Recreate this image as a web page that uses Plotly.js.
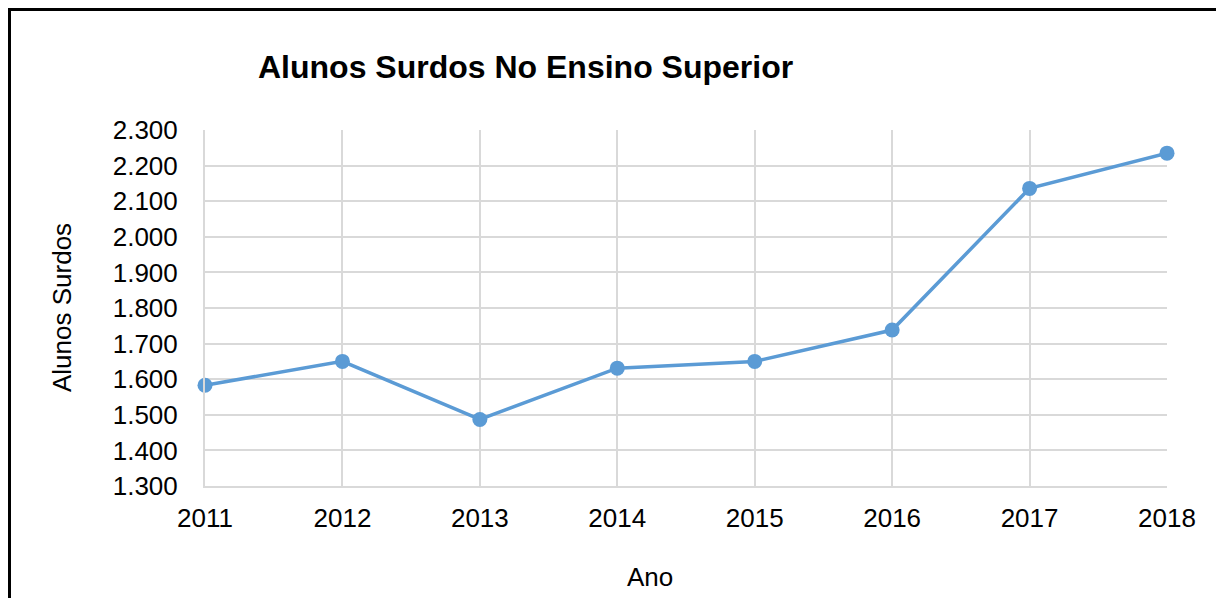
<!DOCTYPE html>
<html>
<head>
<meta charset="utf-8">
<script src="https://cdn.plot.ly/plotly-3.0.1.min.js"></script>
<style>
html,body{margin:0;padding:0;background:#fff;}
#wrap{position:relative;width:1216px;height:598px;overflow:hidden;}
#frame{position:absolute;left:8px;top:8px;width:1300px;height:700px;border-left:3px solid #000;border-top:3px solid #000;pointer-events:none;z-index:5;}
#chart{position:absolute;left:0;top:0;width:1216px;height:598px;}
</style>
</head>
<body>
<div id="wrap">
<div id="chart"></div>
<div id="frame"></div>
</div>
<script>
var years = ["2011","2012","2013","2014","2015","2016","2017","2018"];
var alunos = [1583, 1650, 1487, 1631, 1650, 1738, 2136, 2235];
var yTicks = [1300,1400,1500,1600,1700,1800,1900,2000,2100,2200,2300];

var trace = {
  x: years,
  y: alunos,
  type: 'scatter',
  mode: 'lines+markers',
  line: {color: '#5b9bd5', width: 3.5},
  marker: {color: '#5b9bd5', size: 15},
  cliponaxis: false,
  hoverinfo: 'x+y'
};

var L = 205, T = 130, W = 962, H = 356;

var layout = {
  width: 1216,
  height: 598,
  margin: {l: L, r: 1216 - L - W, t: T, b: 598 - T - H},
  paper_bgcolor: '#fff',
  plot_bgcolor: '#fff',
  separators: ',.',
  showlegend: false,
  font: {family: 'Liberation Sans, Arial, sans-serif', color: '#000', size: 26},
  title: {
    text: '<b>Alunos Surdos No Ensino Superior</b>',
    font: {family: 'Liberation Sans, Arial, sans-serif', size: 32, color: '#000'},
    xref: 'container', yref: 'container',
    x: 258/1216, xanchor: 'left',
    y: 1 - 67/598, yanchor: 'middle'
  },
  xaxis: {
    type: 'category',
    range: [0, years.length - 1],
    showgrid: true,
    gridcolor: '#d9d9d9',
    gridwidth: 2,
    showline: true,
    linecolor: '#d9d9d9',
    linewidth: 2,
    ticks: 'outside',
    ticklen: 8,
    tickcolor: 'rgba(0,0,0,0)',
    tickfont: {size: 26, color: '#000'},
    zeroline: false,
    fixedrange: true
  },
  yaxis: {
    range: [1300, 2300],
    tickvals: yTicks,
    tickformat: ',d',
    showgrid: true,
    gridcolor: '#d9d9d9',
    gridwidth: 2,
    showline: true,
    linecolor: '#d9d9d9',
    linewidth: 2,
    ticks: 'outside',
    ticklen: 20,
    tickcolor: 'rgba(0,0,0,0)',
    tickfont: {size: 26, color: '#000'},
    zeroline: false,
    fixedrange: true
  },
  annotations: [{
    text: 'Ano',
    xref: 'paper', yref: 'paper',
    x: (650 - L) / W, y: -(577 - (T + H)) / H,
    xanchor: 'center', yanchor: 'middle',
    showarrow: false,
    font: {size: 26, color: '#000'}
  }, {
    text: 'Alunos Surdos',
    xref: 'paper', yref: 'paper',
    x: (62 - L) / W, y: 1 - (308 - T) / H,
    xanchor: 'center', yanchor: 'middle',
    textangle: -90,
    showarrow: false,
    font: {size: 26, color: '#000'}
  }]
};

Plotly.newPlot('chart', [trace], layout, {displayModeBar: false, staticPlot: true});
</script>
</body>
</html>
